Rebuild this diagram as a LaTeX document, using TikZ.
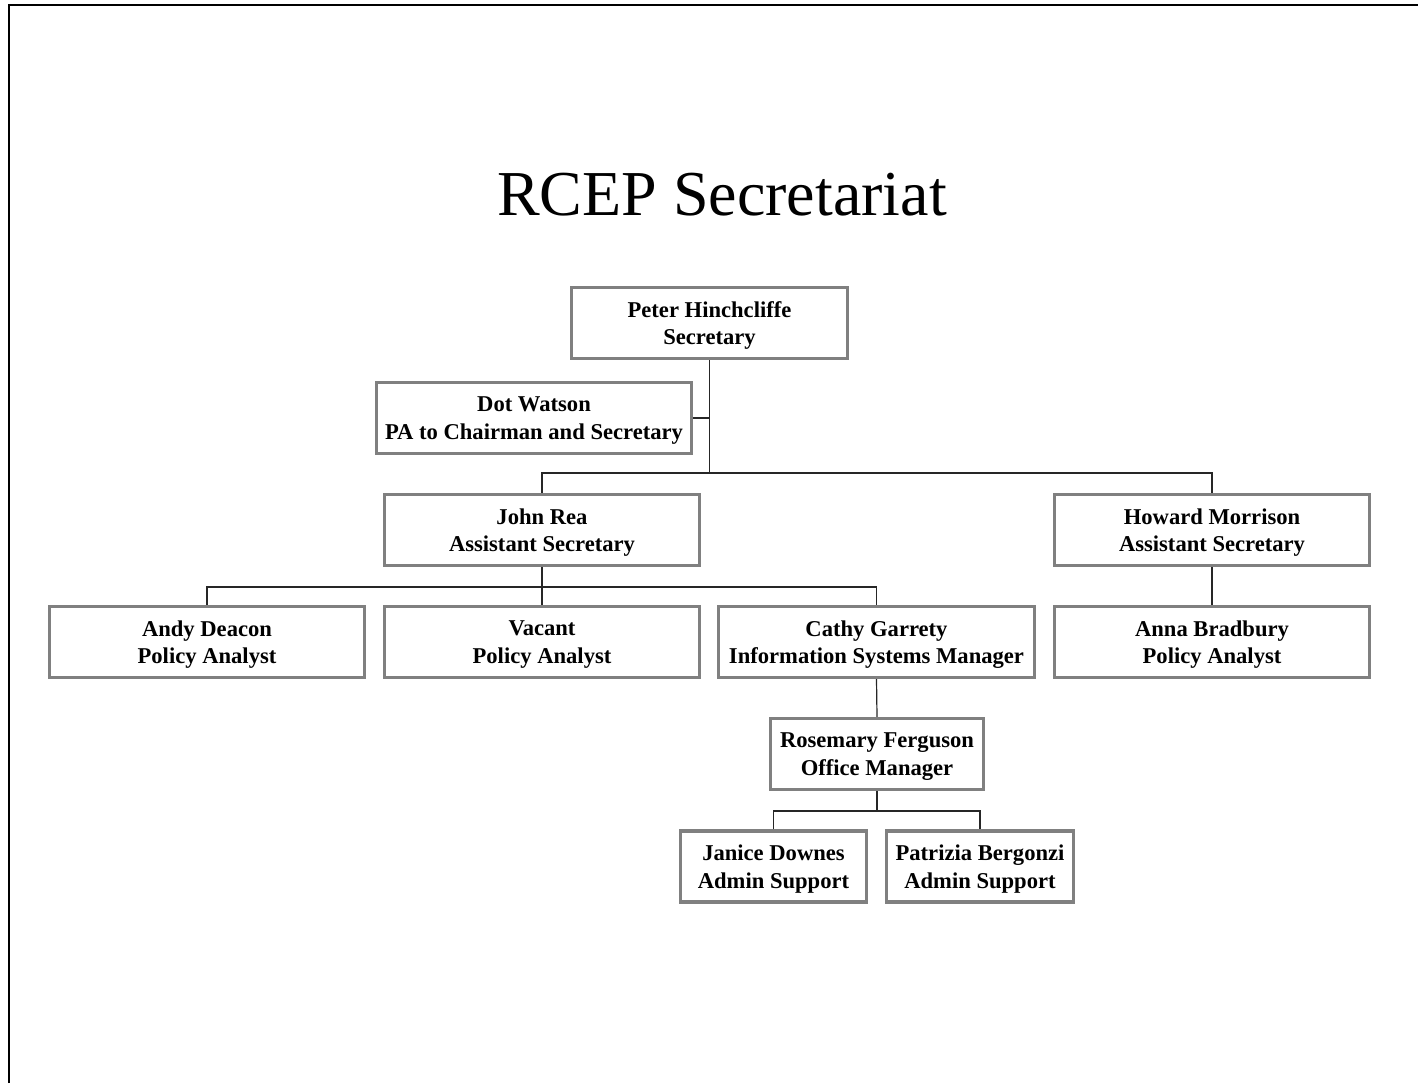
\documentclass[tikz,border=0pt]{standalone}
\usepackage{fontspec}
\setmainfont{Liberation Serif}
\usetikzlibrary{calc}

\begin{document}
\begin{tikzpicture}[x=0.5pt, y=-0.5pt,
    post/.style={draw=gray, line width=1.6pt, fill=white, align=center,
      inner sep=2pt, minimum height=35.5pt, minimum width=157.5pt,
      font=\fontsize{11.3}{13.7}\selectfont\bfseries, text depth=0pt},
    link/.style={draw=black!85, line width=0.6pt}]
  \useasboundingbox (0,0) rectangle (1418,1083);
  % ------------------------------------------------------------------ page edge and title
  \draw[line width=1pt] (9,1083) -- (9,5) -- (1418,5);
  \node[anchor=base, font=\fontsize{32}{38}\selectfont] (title) at (722,215) {RCEP Secretariat};
  % ------------------------------------------------------------------ the posts
  \node[post, minimum width=138pt] (peter) at (709.5,323) {Peter Hinchcliffe\\Secretary};
  \node[post] (dot) at (534,418) {Dot Watson\\PA to Chairman and Secretary};
  \node[post] (john) at (542,530) {John Rea\\Assistant Secretary};
  \node[post] (howard) at (1212,530) {Howard Morrison\\Assistant Secretary};
  \node[post] (andy) at (207,642) {Andy Deacon\\Policy Analyst};
  \node[post] (vacant) at (542,642) {Vacant\\Policy Analyst};
  \node[post, minimum width=158pt] (cathy) at (876.5,642) {Cathy Garrety\\Information Systems Manager};
  \node[post] (anna) at (1212,642) {Anna Bradbury\\Policy Analyst};
  \node[post, minimum width=106.5pt] (rosemary) at (877,754) {Rosemary Ferguson\\Office Manager};
  \node[post, minimum width=93pt] (janice) at (773.5,866.5) {Janice Downes\\Admin Support};
  \node[post, minimum width=93.5pt] (patrizia) at (980,866.5) {Patrizia Bergonzi\\Admin Support};
  % ------------------------------------------------------------------ the lines
  \coordinate (split1) at (709.5,473);
  \coordinate (split2) at (542,587);
  \coordinate (split3) at (877,811);
  \draw[link] (peter.south) -- (split1);
  \draw[link] (dot.east) -- (dot.east -| peter.south);
  \draw[link] (john.north) |- (split1) -| (howard.north);
  \draw[link] (john.south) -- (vacant.north);
  \draw[link] (andy.north) |- (split2) -| (cathy.north);
  \draw[link] (howard.south) -- (anna.north);
  \draw[link] (cathy.south) -- (rosemary.north);
  \draw[link] (rosemary.south) -- (split3);
  \draw[link] (janice.north) |- (split3) -| (patrizia.north);
\end{tikzpicture}
\end{document}
